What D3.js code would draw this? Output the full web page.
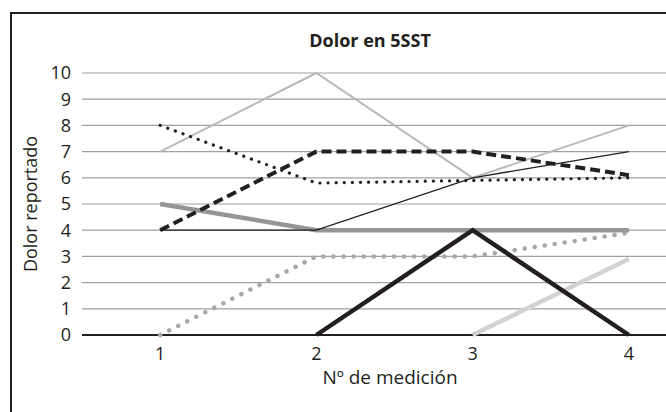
<!DOCTYPE html>
<html>
<head>
<meta charset="utf-8">
<script src="https://cdn.jsdelivr.net/npm/d3@7"></script>
<style>
  body { margin: 0; background: #fff; }
  svg { display: block; font-family: "Open Sans", "Noto Sans", sans-serif; }
</style>
</head>
<body>
<svg id="chart" width="666" height="412"></svg>
<script>
// data
const categories = ["1", "2", "3", "4"];
const yTicks = [0, 1, 2, 3, 4, 5, 6, 7, 8, 9, 10];

const lightGrayThin = [7, 10, 6, 8];
const blackDotted = [8, 5.8, 5.9, 6];
const blackDashed = [4, 7, 7, 6.1];
const blackThin = [4, 4, 6, 7];
const grayThick = [5, 4, 4, 4];
const grayDotted = [0, 3, 3, 3.9];
const blackThick = [null, 0, 4, 0];
const lightGrayThick = [null, null, 0, 2.9];

const title = "Dolor en 5SST";
const xTitle = "Nº de medición";
const yTitle = "Dolor reportado";

const svg = d3.select("#chart");

// plot area (chart is cropped on the right)
const plotLeft = 82, plotRight = 707, plotTop = 73, plotBottom = 335;

const x = d3.scalePoint().domain(categories).range([plotLeft, plotRight]).padding(0.5);
const y = d3.scaleLinear().domain([0, 10]).range([plotBottom, plotTop]);

// chart frame
svg.append("rect")
  .attr("x", 11)
  .attr("y", 13)
  .attr("width", 700)
  .attr("height", 420)
  .attr("fill", "none")
  .attr("stroke", "#231f20")
  .attr("stroke-width", 2);

// gridlines
svg.append("g")
  .selectAll("line")
  .data(yTicks.filter(d => d > 0))
  .join("line")
  .attr("x1", plotLeft)
  .attr("x2", plotRight)
  .attr("y1", d => y(d))
  .attr("y2", d => y(d))
  .attr("stroke", "#a0a0a0")
  .attr("stroke-width", 1.2);

// y tick labels
svg.append("g")
  .selectAll("text")
  .data(yTicks)
  .join("text")
  .attr("x", 71)
  .attr("y", d => y(d))
  .attr("dy", "0.36em")
  .attr("text-anchor", "end")
  .style("font-size", "18px")
  .attr("fill", "#231f20")
  .text(d => d);

// x tick labels
svg.append("g")
  .selectAll("text")
  .data(categories)
  .join("text")
  .attr("x", d => x(d))
  .attr("y", 360)
  .attr("text-anchor", "middle")
  .style("font-size", "18px")
  .attr("fill", "#231f20")
  .text(d => d);

const line = d3.line()
  .defined(d => d != null)
  .x((d, i) => x(categories[i]))
  .y(d => y(d));

const series = [
  { values: grayThick, color: "#959595", width: 4.5, dash: null, cap: "butt" },
  { values: grayDotted, color: "#a8a8a8", width: 4.5, dash: "0.1 10", cap: "round" },
  { values: lightGrayThin, color: "#b9b9b9", width: 2, dash: null, cap: "butt" },
  { values: blackThin, color: "#231f20", width: 1.3, dash: null, cap: "butt" },
  { values: blackDotted, color: "#231f20", width: 3.2, dash: "0.1 8", cap: "round" },
  { values: blackDashed, color: "#231f20", width: 4, dash: "10 5", cap: "butt" },
  { values: lightGrayThick, color: "#d2d2d2", width: 4.5, dash: null, cap: "butt" },
  { values: blackThick, color: "#231f20", width: 4.5, dash: null, cap: "butt" }
];

// x axis line at 0
svg.append("line")
  .attr("x1", plotLeft)
  .attr("x2", plotRight)
  .attr("y1", y(0))
  .attr("y2", y(0))
  .attr("stroke", "#231f20")
  .attr("stroke-width", 2);

svg.append("g")
  .selectAll("path")
  .data(series)
  .join("path")
  .attr("d", d => line(d.values))
  .attr("fill", "none")
  .attr("stroke", d => d.color)
  .attr("stroke-width", d => d.width)
  .attr("stroke-dasharray", d => d.dash)
  .attr("stroke-linecap", d => d.cap)
  .attr("stroke-linejoin", "miter");

// titles
svg.append("text")
  .attr("x", 370)
  .attr("y", 47)
  .attr("text-anchor", "middle")
  .style("font-size", "18px")
  .style("font-weight", "bold")
  .attr("fill", "#231f20")
  .text(title);

svg.append("text")
  .attr("x", 390)
  .attr("y", 384)
  .attr("text-anchor", "middle")
  .style("font-size", "19px")
  .attr("fill", "#231f20")
  .text(xTitle);

svg.append("text")
  .attr("transform", "translate(37,204) rotate(-90)")
  .attr("text-anchor", "middle")
  .style("font-size", "18px")
  .attr("fill", "#231f20")
  .text(yTitle);
</script>
</body>
</html>
